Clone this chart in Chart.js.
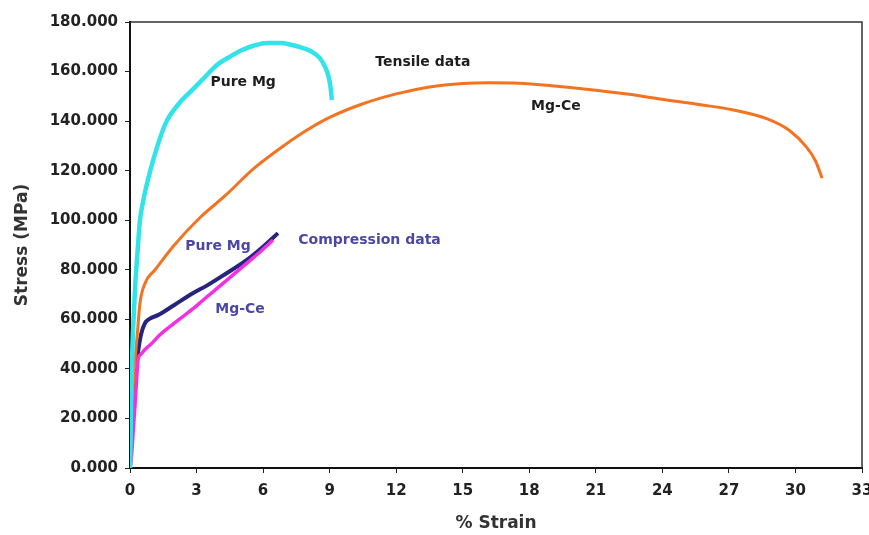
<!DOCTYPE html>
<html lang="en">
  <head>
    <meta charset="utf-8">
    <title>Stress strain</title>
    <script src="https://cdn.jsdelivr.net/npm/chart.js@4.4.0/dist/chart.umd.min.js"></script>
    <style>
      body { margin: 0; background: #fff; }
    </style>
  </head>
  <body>
    <canvas id="chart" width="869" height="535"></canvas>
    <script>
      // tensile curves
      const pureMgTensileStrain = [0, 0.03, 0.06, 0.1, 0.15, 0.23, 0.33, 0.45, 0.6, 0.8, 1.1, 1.6, 2.2, 2.8, 3.4, 3.97, 4.5, 5.05, 5.6, 6.2, 6.8, 7.3, 7.8, 8.2, 8.55, 8.8, 8.95, 9.05, 9.1];
      const pureMgTensileStress = [0, 15, 30, 46, 58, 73, 86, 100, 108, 116, 126, 139, 147, 152.5, 158, 163, 166, 168.7, 170.5, 171.5, 171.5, 170.7, 169.5, 168, 165.5, 161.8, 158, 153, 148.5];

      const mgCeTensileStrain = [0, 0.03, 0.08, 0.14, 0.22, 0.32, 0.45, 0.68, 1.13, 2, 3.15, 4.3, 5.6, 7, 8, 9, 10.5, 12, 13.5, 15, 16.2, 17.5, 19, 21, 22.5, 24.2, 25.8, 27.2, 28.7, 29.7, 30.5, 30.9, 31.2];
      const mgCeTensileStress = [0, 12, 24, 33, 43, 53, 66.6, 74.6, 80, 90, 101, 110, 121, 130.5, 136.5, 141.5, 147, 151, 153.8, 155.2, 155.5, 155.3, 154.3, 152.5, 150.8, 148.5, 146.5, 144.5, 141, 136.4, 129.5, 124, 117];

      // compression curves
      const pureMgCompStrain = [0, 0.08, 0.16, 0.25, 0.35, 0.5, 0.68, 0.9, 1.26, 2, 2.85, 3.5, 4.3, 5.27, 6, 6.67];
      const pureMgCompStress = [0, 14, 28, 38, 46, 54, 58.5, 60.3, 61.7, 65.8, 70.6, 73.8, 78.3, 84, 89.3, 94.8];

      const mgCeCompStrain = [0, 0.08, 0.16, 0.23, 0.3, 0.36, 0.5, 0.68, 1.0, 1.26, 2, 2.8, 3.3, 4.3, 5.27, 5.9, 6.45];
      const mgCeCompStress = [0, 6, 17, 26, 36, 43.6, 46, 47.8, 50.5, 53, 58.5, 64, 67.8, 75.3, 82.7, 87.5, 92];

      const xTicks = [0, 3, 6, 9, 12, 15, 18, 21, 24, 27, 30, 33];
      const yTicks = [0, 20, 40, 60, 80, 100, 120, 140, 160, 180];

      // text labels placed in data units
      const labels = [
        { text: 'Pure Mg', x: 5.1, y: 155.8, color: '#1e1e1e' },
        { text: 'Tensile data', x: 13.2, y: 163.8, color: '#1e1e1e' },
        { text: 'Mg-Ce', x: 19.2, y: 146, color: '#1e1e1e' },
        { text: 'Pure Mg', x: 3.97, y: 89.6, color: '#4b47a6' },
        { text: 'Compression data', x: 10.8, y: 92, color: '#4b47a6' },
        { text: 'Mg-Ce', x: 4.96, y: 64, color: '#4b47a6' }
      ];

      const toPoints = (xs, ys) => xs.map((x, i) => ({ x: x, y: ys[i] }));

      const font = 'DejaVu Sans';

      const textPlugin = {
        id: 'curveText',
        afterDatasetsDraw(chart) {
          const ctx = chart.ctx;
          const sx = chart.scales.x, sy = chart.scales.y;
          ctx.save();
          ctx.font = 'bold 14px "' + font + '"';
          ctx.textAlign = 'center';
          ctx.textBaseline = 'middle';
          labels.forEach(l => {
            ctx.fillStyle = l.color;
            ctx.fillText(l.text, sx.getPixelForValue(l.x), sy.getPixelForValue(l.y));
          });
          ctx.restore();
        }
      };

      const framePlugin = {
        id: 'frame',
        afterDatasetsDraw(chart) {
          const a = chart.chartArea;
          const ctx = chart.ctx;
          ctx.save();
          ctx.strokeStyle = '#333';
          ctx.lineWidth = 1.5;
          ctx.beginPath();
          ctx.moveTo(a.left, a.top);
          ctx.lineTo(a.right, a.top);
          ctx.lineTo(a.right, a.bottom);
          ctx.stroke();
          ctx.restore();
        }
      };

      const line = (data, color, width) => ({
        data: data,
        showLine: true,
        borderColor: color,
        backgroundColor: color,
        borderWidth: width,
        pointRadius: 0,
        cubicInterpolationMode: 'monotone',
        fill: false
      });

      new Chart(document.getElementById('chart').getContext('2d'), {
        type: 'scatter',
        data: {
          datasets: [
            line(toPoints(pureMgTensileStrain, pureMgTensileStress), '#33e3ea', 4.5),
            line(toPoints(mgCeTensileStrain, mgCeTensileStress), '#f37321', 3),
            line(toPoints(mgCeCompStrain, mgCeCompStress), '#f52fe3', 3.5),
            line(toPoints(pureMgCompStrain, pureMgCompStress), '#25247e', 4)
          ]
        },
        options: {
          responsive: false,
          animation: false,
          layout: { padding: { top: 22, right: 7, left: 0, bottom: 0 } },
          plugins: {
            legend: { display: false },
            tooltip: { enabled: false }
          },
          scales: {
            x: {
              type: 'linear',
              min: 0,
              max: 33,
              afterBuildTicks: s => { s.ticks = xTicks.map(v => ({ value: v })); },
              // let the last label run past the plot edge
              afterFit: s => { s.height = 67; s.paddingLeft = 0; s.paddingRight = 0; },
              grid: { drawOnChartArea: false, drawTicks: true, tickLength: 5, color: '#222' },
              border: { display: true, width: 2, color: '#111' },
              ticks: { color: '#222', padding: 9, font: { family: font, size: 15, weight: 'bold' } },
              title: { display: true, text: '% Strain', color: '#333', padding: { top: 0, bottom: 1 }, font: { family: font, size: 17, weight: 'bold' } }
            },
            y: {
              type: 'linear',
              min: 0,
              max: 180,
              afterBuildTicks: s => { s.ticks = yTicks.map(v => ({ value: v })); },
              afterFit: s => { s.width = 130; },
              grid: { drawOnChartArea: false, drawTicks: true, tickLength: 5, color: '#222' },
              border: { display: true, width: 2, color: '#111' },
              ticks: { color: '#222', padding: 7, font: { family: font, size: 15, weight: 'bold' }, callback: v => v.toFixed(3) },
              title: { display: true, text: 'Stress (MPa)', color: '#333', padding: { top: 12, bottom: 0 }, font: { family: font, size: 17, weight: 'bold' } }
            }
          }
        },
        plugins: [textPlugin, framePlugin]
      });
    </script>
  </body>
</html>
